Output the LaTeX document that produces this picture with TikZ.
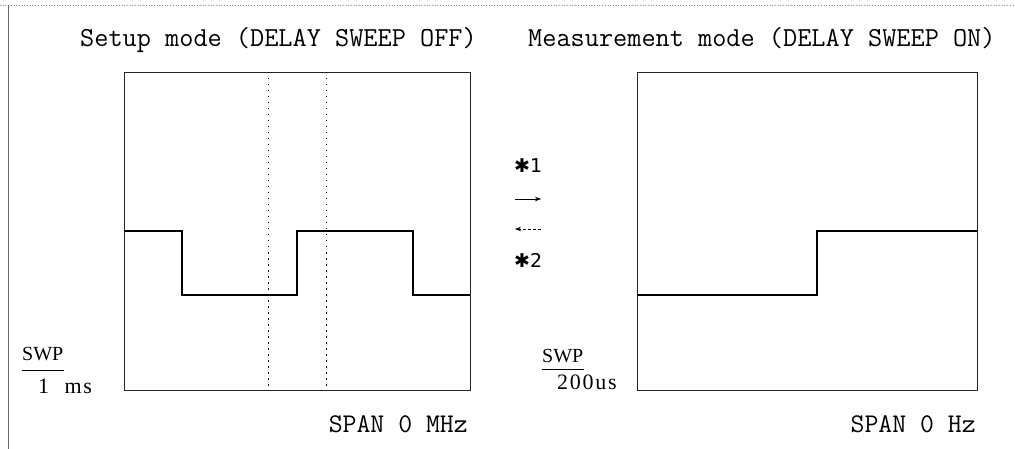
\documentclass[tikz,border=0pt]{standalone}
\usepackage{fontspec}
\newfontfamily\marksfont{DejaVu Sans}
\newfontfamily\swpfont{Liberation Serif}
\newfontfamily\unitfont[LetterSpace=8]{Liberation Serif}
\usetikzlibrary{arrows.meta,positioning}

\begin{document}
\begin{tikzpicture}[
  x=1pt,y=-1pt,
  screen/.style={draw=black!85,line width=0.9pt},
  trace/.style={line width=2.6pt,line join=miter},
  cursor/.style={line width=0.8pt,dash pattern=on 1.5pt off 4.5pt},
  title/.style={font=\ttfamily\fontsize{27.5}{30}\selectfont,inner sep=0pt,anchor=base west},
  span/.style={font=\ttfamily\fontsize{27}{30}\selectfont,inner sep=0pt,anchor=base east},
  swp/.style={font=\swpfont\fontsize{20}{22}\selectfont,inner sep=0pt,anchor=base west},
  swpunit/.style={font=\unitfont\fontsize{22}{24}\selectfont,inner sep=0pt,anchor=base west},
  switchmark/.style={font=\marksfont\fontsize{19}{22}\selectfont,inner sep=0pt,anchor=base west},
  flow/.style={-{Stealth[length=6pt,width=4.5pt]},line width=0.8pt}
]
\useasboundingbox (0,0) rectangle (1015,449);
% edge of the scanned page
\draw[black!45,line width=0.7pt,dotted] (0,5) -- (1015,5);
\draw[black!60,line width=0.8pt] (8,5) -- (8,449);

% titles
\node[title] (setupT) at (80,47) {Setup mode (DELAY SWEEP OFF)};
\node[title] (measT) at (528,47) {Measurement mode (DELAY SWEEP ON)};

% screens
\draw[screen] (124,72) rectangle (470,390);
\draw[screen] (637,72) rectangle (977,390);

% cursors in the setup screen
\foreach \cx in {268,326}
  \draw[cursor] (\cx,72) -- (\cx,390);

% traces
\draw[trace] (124,231) -- (182,231) -- (182,295) -- (297,295) -- (297,231)
  -- (413,231) -- (413,295) -- (470,295);
\draw[trace] (637,295) -- (817,295) -- (817,231) -- (977,231);

% sweep time
\node[swp] (swpL) at (22,360) {SWP};
\draw[line width=0.9pt] ([yshift=-10pt]swpL.base west) -- ([yshift=-10pt]swpL.base east);
\node[swpunit] (unitL) at (38,393) {1\hspace{0.7em}ms};
\node[swp] (swpR) at (542,362) {SWP};
\draw[line width=0.9pt] ([yshift=-7pt]swpR.base west) -- ([yshift=-7pt]swpR.base east);
\node[swpunit] (unitR) at (557,389) {200us};

% span
\node[span] (spanL) at (468,432) {SPAN 0 MHz};
\node[span] (spanR) at (976,432) {SPAN 0 Hz};

% switching marks
\node[switchmark] (markA) at (514,173) {✱1};
\node[switchmark] (markB) at (514,268) {✱2};
\coordinate (fwdS) at (515,199);
\coordinate (fwdE) at (541,199);
\coordinate (bckS) at (541,229);
\coordinate (bckE) at (515,229);
\draw[flow] (fwdS) -- (fwdE);
\draw[flow,dash pattern=on 3pt off 2pt] (bckS) -- (bckE);
\end{tikzpicture}
\end{document}
